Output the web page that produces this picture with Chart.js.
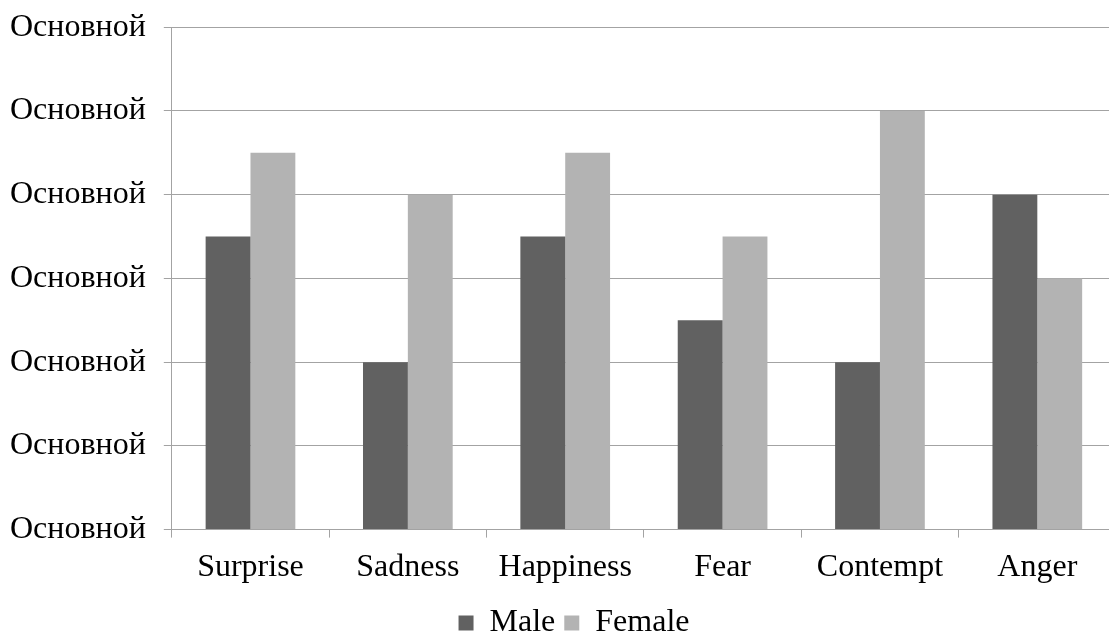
<!DOCTYPE html>
<html>
<head>
<meta charset="utf-8">
<script src="https://cdn.jsdelivr.net/npm/chart.js@4"></script>
<style>
  body{margin:0;background:#fff;overflow:hidden;}
  #wrap{width:1124px;height:659px;margin-left:-8px;margin-top:-10px;}
</style>
</head>
<body>
<div id="wrap"><canvas id="barChart"></canvas></div>
<script>

const categories=["Surprise","Sadness","Happiness","Fear","Contempt","Anger"];
const maleValues=[3.5,2,3.5,2.5,2,4];
const femaleValues=[4.5,4,4.5,3.5,5,3];
const yTickLabel="Основной";

const gridColor="#a3a3a3";
const font={family:"'Liberation Serif','Times New Roman',serif",size:32};

// legend sits a bit right of the canvas centre in the original
const legendShift={
    id:"legendShift",
    afterLayout(chart){
        chart.legend.left+=20;
        chart.legend.right+=20;
    }
};

function createBarChart(x,male,female){

   const canvas=document.getElementById("barChart");

   new Chart(canvas,{
    type:"bar",
    data:{
        labels:x,
        datasets:[{
            label:"Male",
            data:male,
            backgroundColor:"#616161",
            categoryPercentage:0.57,
            barPercentage:1
        },{
            label:"Female",
            data:female,
            backgroundColor:"#b3b3b3",
            categoryPercentage:0.57,
            barPercentage:1
        }]
    },
    options:{
        responsive:true,
        maintainAspectRatio:false,
        animation:false,
        layout:{padding:{top:3,left:0,right:0,bottom:0}},
        scales:{
            x:{
                grid:{drawOnChartArea:false,drawTicks:true,tickLength:8,color:gridColor},
                border:{color:gridColor},
                ticks:{color:"#000",font:font,maxRotation:0,autoSkip:false,padding:11}
            },
            y:{
                min:0,max:6,
                grid:{color:gridColor,tickLength:8},
                border:{color:gridColor},
                ticks:{stepSize:1,color:"#000",font:font,padding:18,callback:()=>yTickLabel}
            }
        },
        plugins:{
            legend:{
                position:"bottom",
                labels:{color:"#000",font:font,boxWidth:15,boxHeight:15,padding:9}
            },
            tooltip:{enabled:false}
        }
    },
    plugins:[legendShift]
   });
}

createBarChart(categories,maleValues,femaleValues);

</script>
</body>
</html>
